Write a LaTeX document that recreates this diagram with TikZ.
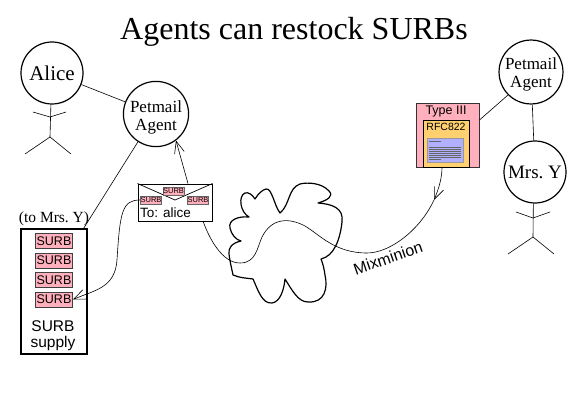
\documentclass[tikz,border=0pt]{standalone}
\usepackage{fontspec}
\setmainfont{Liberation Serif}
\setsansfont{Liberation Sans}
\usetikzlibrary{arrows.meta,positioning}

\definecolor{surbpink}{RGB}{255,176,188}
\definecolor{rfcorange}{RGB}{255,208,112}
\definecolor{bodyblue}{RGB}{176,176,255}

\begin{document}
\begin{tikzpicture}[
  x=1pt, y=-1pt,
  person/.style={draw, circle, line width=1.2pt, minimum size=62pt, inner sep=0pt, align=center, fill=white},
  stick/.style={line width=0.6pt},
  link/.style={line width=0.6pt},
  arr/.style={-{Straight Barb[length=12pt,width=10pt,line width=0.6pt]}, line width=0.6pt},
  surb/.style={draw=black!75, line width=0.9pt, fill=surbpink, inner sep=0pt, minimum width=37pt, minimum height=15pt, font=\sffamily\fontsize{12.5}{12.5}\selectfont},
  tinysurb/.style={draw=black!60, line width=0.6pt, fill=surbpink, inner sep=0pt, minimum width=21pt, minimum height=8pt, font=\sffamily\fontsize{7.5}{7.5}\selectfont},
]
\useasboundingbox (0,0) rectangle (583,417);
\node[font=\fontsize{32}{32}\selectfont] (title) at (294,32) {Agents can restock SURBs};

\node[person, font=\fontsize{21}{21}\selectfont] (alice) at (52,73) {Alice};
\node[person, font=\fontsize{17}{18}\selectfont] (agentA) at (156,114) {\rule{0pt}{18pt}Petmail\\Agent};
\node[person, font=\fontsize{17}{18}\selectfont] (agentB) at (531,72) {\rule{0pt}{16pt}Petmail\\Agent};
\node[person, font=\fontsize{19}{19}\selectfont] (mrsy) at (535,172) {Mrs.\ Y};

% stick figures
\draw[stick] (alice.-92) -- (50,137) coordinate (hipA);
\draw[stick] (33,112) -- (50,117) -- (66,112);
\draw[stick] (25,154) -- (hipA) -- (71,154);
\draw[stick] (mrsy.-93) -- (533,237) coordinate (hipB);
\draw[stick] (516,212) -- (533,218) -- (550,212);
\draw[stick] (508,254) -- (hipB) -- (554,254);

% supply
\node[draw, line width=1.2pt, minimum width=66pt, minimum height=125pt, inner sep=0pt] (supply) at (54,291.5) {};
\node[surb] (s1) at (54,241) {SURB};
\node[surb, below=3.6pt of s1] (s2) {SURB};
\node[surb, below=3.6pt of s2] (s3) {SURB};
\node[surb, below=3.6pt of s3] (s4) {SURB};
\node[font=\sffamily\fontsize{15.5}{16}\selectfont, align=center] (supplylabel) at (53,336) {SURB\\supply};
\node[font=\fontsize{15.5}{15.5}\selectfont] (tomrs) at (54,219) {(to Mrs.\ Y)};

% envelope
\node[draw, line width=1pt, fill=white, minimum width=74pt, minimum height=37pt, inner sep=0pt] (envelope) at (175,202.5) {};
\coordinate (flap) at (175,200);
\draw[line width=0.7pt] (envelope.north west) -- (flap) -- (envelope.north east);
\node[tinysurb] (e1) at (173.5,191) {SURB};
\node[tinysurb] (e2) at (151,200) {SURB};
\node[tinysurb] (e3) at (198,200) {SURB};
\node[font=\sffamily\fontsize{13.5}{13.5}\selectfont, anchor=west, inner sep=0pt] (tolabel) at (140,213) {To: alice};

% type III packet
\node[draw=black!80, line width=1pt, fill=surbpink, minimum width=63pt, minimum height=63pt, inner sep=0pt] (typeiii) at (447.5,135.5) {};
\node[draw=black, line width=0.9pt, fill=rfcorange, minimum width=46pt, minimum height=47pt, inner sep=0pt] (rfc) at (446,143.5) {};
\node[draw=black!40, line width=0.6pt, fill=bodyblue, minimum width=36pt, minimum height=24pt, inner sep=0pt] (body) at (445,150) {};
\node[font=\sffamily\fontsize{12.5}{12.5}\selectfont] (typelabel) at (446,111.5) {Type III};
\node[font=\sffamily\fontsize{10.5}{10.5}\selectfont] (rfclabel) at (446,127) {RFC822};
\draw[line width=0.2pt, black!60] (429,141.5) -- (441,141.5);
\foreach \y in {147,149,151,153,155,157}
  \draw[line width=0.2pt, black!60, dash pattern=on 1.5pt off 0.5pt] (429,\y) -- (461,\y);
\draw[line width=0.2pt, black!60] (429,159) -- (441,159);

% links
\draw[link] (alice) -- (agentA);
\draw[link] (agentB) -- (mrsy);
\draw[link] (agentB.-135) -- (typeiii.east |- 0,120);
\draw[link] (agentA.-123) -- ([xshift=-4pt]supply.north east);
\draw[arr] ([xshift=13pt]envelope.north) -- (agentA.-53);
\draw[arr] (e2.west) .. controls (122,200) and (120,212) .. (117,260) .. controls (115,288) and (95,290) .. (s4.east);

% cloud
\draw[line width=1.2pt, line join=round] (233,275) .. controls (240,278) and (246,278) .. (253,279)
  .. controls (258,290) and (262,304) .. (272,303)
  .. controls (280,302) and (284,290) .. (285,279)
  .. controls (292,290) and (298,302) .. (308,302)
  .. controls (325,303) and (328,288) .. (325,275)
  .. controls (324,268) and (323,264) .. (321,259)
  .. controls (334,256) and (340,240) .. (342,222)
  .. controls (344,208) and (332,204) .. (318,203)
  .. controls (328,200) and (334,196) .. (329,191)
  .. controls (322,183) and (308,182) .. (300,184)
  .. controls (288,188) and (290,205) .. (280,213)
  .. controls (274,205) and (272,188) .. (266,189)
  .. controls (262,190) and (258,194) .. (255,199)
  .. controls (252,194) and (248,192) .. (245,193)
  .. controls (238,196) and (240,212) .. (249,217)
  .. controls (238,216) and (228,220) .. (230,228)
  .. controls (231,234) and (236,240) .. (241,241)
  .. controls (232,243) and (228,248) .. (229,254)
  .. controls (230,262) and (232,270) .. (233,275) -- cycle;

% mix route
\coordinate (hop) at (434,200);
\draw[arr] (442,167) .. controls (442,178) and (439,188) .. (hop);
\draw[line width=0.6pt] (hop) .. controls (420,230) and (390,253) .. (367,253)
  .. controls (335,253) and (320,235) .. (305,226)
  .. controls (290,218) and (272,217) .. (262,237)
  .. controls (257,248) and (256,263) .. (240,263)
  .. controls (222,263) and (209,238) .. (203,221);
\node[font=\sffamily\fontsize{16}{16}\selectfont, rotate=19] (mixlabel) at (388,258) {Mixminion};
\end{tikzpicture}
\end{document}
